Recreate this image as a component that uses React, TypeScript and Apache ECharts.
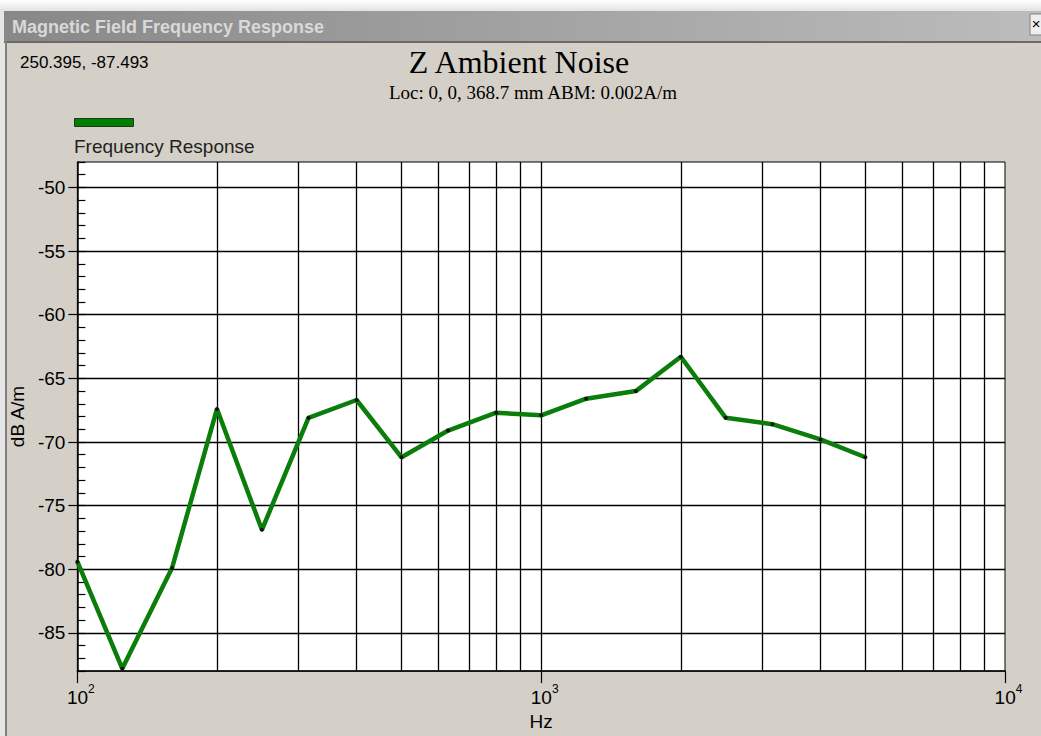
import React, { useEffect, useRef } from "react";
import * as echarts from "echarts";

const freqs = [100, 125, 160, 200, 250, 315, 400, 500, 630, 800, 1000, 1250, 1600, 2000, 2500, 3150, 4000, 5000];
const dbValues = [-79.4, -87.8, -79.9, -67.4, -76.9, -68.1, -66.7, -71.2, -69.1, -67.7, -67.9, -66.6, -66.0, -63.3, -68.1, -68.6, -69.8, -71.2];
const xGridValues = [200, 300, 400, 500, 600, 700, 800, 900, 1000, 2000, 3000, 4000, 5000, 6000, 7000, 8000, 9000];
const yMajorValues = [-85, -80, -75, -70, -65, -60, -55, -50];
const seriesName = "Frequency Response";
const windowTitle = "Magnetic Field Frequency Response";
const chartTitle = "Z Ambient Noise";
const chartSubtitle = "Loc: 0, 0, 368.7 mm ABM: 0.002A/m";
const cursorReadout = "250.395, -87.493";

const SANS = "Arial, 'Liberation Sans', sans-serif";
const SERIF = "'Times New Roman', 'Liberation Serif', serif";

export default function App() {
  const ref = useRef<HTMLDivElement>(null);
  useEffect(() => {
    if (!ref.current) return;
    const chart = echarts.init(ref.current, null, { renderer: "svg" });
    const points = freqs.map((f, i) => [f, dbValues[i]]);
    chart.setOption({
      animation: false,
      backgroundColor: "#d4d0c8",
      graphic: [
        { type: "rect", shape: { x: 0, y: 0, width: 1041, height: 11 }, style: { fill: new echarts.graphic.LinearGradient(0, 0, 0, 1, [{ offset: 0, color: "#ffffff" }, { offset: 1, color: "#e2e2e2" }]) }, silent: true },
        { type: "rect", shape: { x: 0, y: 11, width: 5, height: 725 }, style: { fill: "#e6e6e6" }, silent: true },
        { type: "rect", shape: { x: 4, y: 11, width: 1037, height: 30 }, style: { fill: new echarts.graphic.LinearGradient(0, 0, 1, 0, [{ offset: 0, color: "#888888" }, { offset: 1, color: "#bcbcbc" }]) }, silent: true },
        { type: "rect", shape: { x: 4, y: 41, width: 1037, height: 2 }, style: { fill: "#6a6a6a" }, silent: true },
        { type: "rect", shape: { x: 5, y: 41, width: 2, height: 695 }, style: { fill: "#808080" }, silent: true },
        { type: "text", x: 12, y: 27, style: { text: windowTitle, fill: "#d9d9d9", font: `bold 18px ${SANS}`, textVerticalAlign: "middle" }, silent: true },
        { type: "rect", shape: { x: 1030, y: 14, width: 12, height: 21 }, style: { fill: "#eeeeee", stroke: "#808080", lineWidth: 1 }, silent: true },
        { type: "text", x: 1036, y: 23, style: { text: "×", fill: "#000", font: `15px ${SANS}`, textAlign: "center", textVerticalAlign: "middle" }, silent: true },
        { type: "text", x: 20, y: 62, style: { text: cursorReadout, fill: "#000", font: `17px ${SANS}`, textVerticalAlign: "middle" }, silent: true },
        { type: "text", x: 519, y: 62, style: { text: chartTitle, fill: "#000", font: `32px ${SERIF}`, textAlign: "center", textVerticalAlign: "middle" }, silent: true },
        { type: "text", x: 533, y: 92, style: { text: chartSubtitle, fill: "#000", font: `19px ${SERIF}`, textAlign: "center", textVerticalAlign: "middle" }, silent: true },
        { type: "rect", shape: { x: 74.5, y: 118.5, width: 59, height: 8 }, style: { fill: "#008000", stroke: "#1a3a1a", lineWidth: 1 }, silent: true },
        { type: "text", x: 74, y: 146, style: { text: seriesName, fill: "#222", font: `19px ${SANS}`, textVerticalAlign: "middle" }, silent: true },
      ],
      grid: {
        left: 75,
        top: 162,
        width: 930,
        height: 516,
        show: true,
        backgroundColor: "#ffffff",
        borderColor: "#000",
        borderWidth: 1,
        containLabel: false,
      },
      xAxis: {
        type: "log",
        logBase: 10,
        min: 100,
        max: 10000,
        name: "Hz",
        nameLocation: "middle",
        nameGap: 37,
        nameTextStyle: { fontSize: 19, fontFamily: SANS, color: "#000" },
        axisLine: { show: true, lineStyle: { color: "#000", width: 1.5 } },
        axisTick: { show: true, inside: false, length: 12, lineStyle: { color: "#000", width: 1.2 } },
        splitLine: { show: false },
        minorTick: { show: false },
        axisLabel: {
          margin: 12,
          padding: [0, 0, 0, 7],
          formatter: (v: number) => `{b|10}{s|${Math.round(Math.log10(v))}}`,
          rich: {
            b: { fontSize: 19, fontFamily: SANS, color: "#000", lineHeight: 24, verticalAlign: "bottom" },
            s: { fontSize: 12, fontFamily: SANS, color: "#000", lineHeight: 24, verticalAlign: "top" },
          },
        },
      },
      yAxis: [
        {
          type: "value",
          min: -88,
          max: -48,
          name: "dB A/m",
          nameLocation: "middle",
          nameGap: 46,
          nameRotate: 90,
          nameTextStyle: { fontSize: 19, fontFamily: SANS, color: "#000" },
          axisLine: { show: true, lineStyle: { color: "#000", width: 1.5 } },
          axisTick: { show: true, inside: false, length: 9, customValues: yMajorValues, lineStyle: { color: "#000", width: 1.2 } },
          axisLabel: { margin: 12, customValues: yMajorValues, fontSize: 19, fontFamily: SANS, color: "#000" },
          splitLine: { show: false },
        },
        {
          type: "value",
          min: -88,
          max: -48,
          interval: 1,
          position: "left",
          axisLine: { show: false },
          axisTick: { show: true, inside: true, length: 8, lineStyle: { color: "#000", width: 1.2 } },
          axisLabel: { show: false },
          splitLine: { show: false },
        },
      ],
      series: [
        {
          name: "grid",
          type: "line",
          xAxisIndex: 0,
          yAxisIndex: 0,
          data: points,
          showSymbol: false,
          symbol: "none",
          lineStyle: { opacity: 0 },
          silent: true,
          z: 1,
          markLine: {
            silent: true,
            z: 1,
            symbol: ["none", "none"],
            label: { show: false },
            emphasis: { disabled: true },
            lineStyle: { color: "#000", width: 1.3, type: "solid" },
            data: [
              ...xGridValues.map((x) => ({ xAxis: x })),
              ...yMajorValues.map((y) => ({ yAxis: y })),
            ],
          },
        },
        {
          name: seriesName,
          type: "line",
          xAxisIndex: 0,
          yAxisIndex: 0,
          data: points,
          z: 3,
          symbol: "circle",
          symbolSize: 4,
          showSymbol: true,
          itemStyle: { color: "#111", borderWidth: 0 },
          lineStyle: { color: "#0a7d0a", width: 4.5 },
          emphasis: { disabled: true },
        },
      ],
    });
    return () => chart.dispose();
  }, []);
  return <div ref={ref} style={{ position: "fixed", left: 0, top: 0, width: 1041, height: 736 }} />;
}
